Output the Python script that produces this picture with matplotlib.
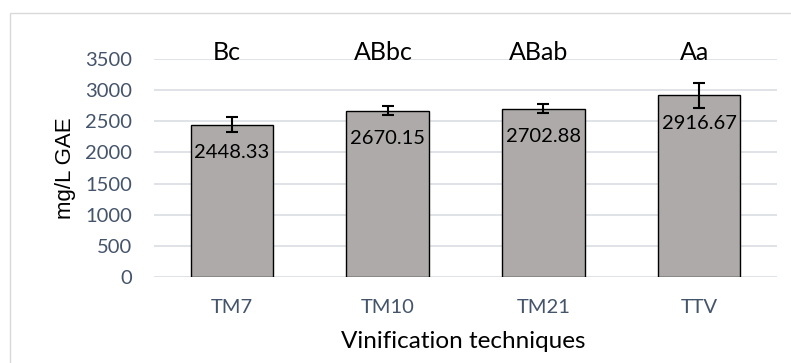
import numpy as np
import matplotlib
matplotlib.use("Agg")
import matplotlib.pyplot as plt
from matplotlib.patches import Rectangle

plt.rcParams.update({"font.family": ["Lato", "DejaVu Sans"], "figure.facecolor": "white"})

categories = ["TM7", "TM10", "TM21", "TTV"]
values = [2448.33, 2670.15, 2702.88, 2916.67]
errors = [115, 70, 72, 205]
letters = ["Bc", "ABbc", "ABab", "Aa"]

BAR_COLOR = "#AEAAAA"
TICK_COLOR = "#44546A"
GRID_COLOR = "#D9DEE4"

W, H = 791, 363
fig = plt.figure(figsize=(W / 100, H / 100), dpi=100)
ax = fig.add_axes([154 / W, 1 - 277 / H, 623 / W, 218 / H])

x = np.arange(len(categories))
ax.bar(x, values, width=0.53, color=BAR_COLOR, edgecolor="black", linewidth=1.0, zorder=3)
ax.errorbar(x, values, yerr=errors, fmt="none", ecolor="black", elinewidth=1.5,
            capsize=4, capthick=1.5, zorder=4)

for i, v in enumerate(values):
    ax.annotate(f"{v:.2f}", (x[i], v), textcoords="offset points", xytext=(0, -20),
                ha="center", va="center", fontsize=14.5, color="black", zorder=5)
    ax.text(x[i] - 0.03, 3480, letters[i], ha="center", va="baseline",
            fontsize=18, color="black", clip_on=False)

ax.set_xlim(-0.5, 3.5)
ax.set_ylim(0, 3500)
ax.set_yticks(np.arange(0, 3501, 500))
ax.set_xticks(x)
ax.set_xticklabels(categories)
ax.yaxis.grid(True, color=GRID_COLOR, linewidth=1.2, zorder=0)
ax.set_axisbelow(True)
for s in ax.spines.values():
    s.set_visible(False)
ax.tick_params(axis="both", length=0, labelsize=14.5, labelcolor=TICK_COLOR)
ax.tick_params(axis="x", pad=16)
ax.tick_params(axis="y", pad=16)

fig.text(65 / W, 1 - 168 / H, "mg/L GAE", rotation=90, ha="center", va="center",
         fontsize=16, family="Liberation Sans", color="black")
fig.text(463 / W, 1 - 342 / H, "Vinification techniques", ha="center", va="center",
         fontsize=17.5, color="black")

fig.patches.append(Rectangle((9.5 / W, -0.05), 1.0, 1 - 13.5 / H + 0.05,
                             transform=fig.transFigure, fill=False,
                             edgecolor="#D9D9D9", linewidth=1.0))

fig.savefig("out.png", dpi=100)
